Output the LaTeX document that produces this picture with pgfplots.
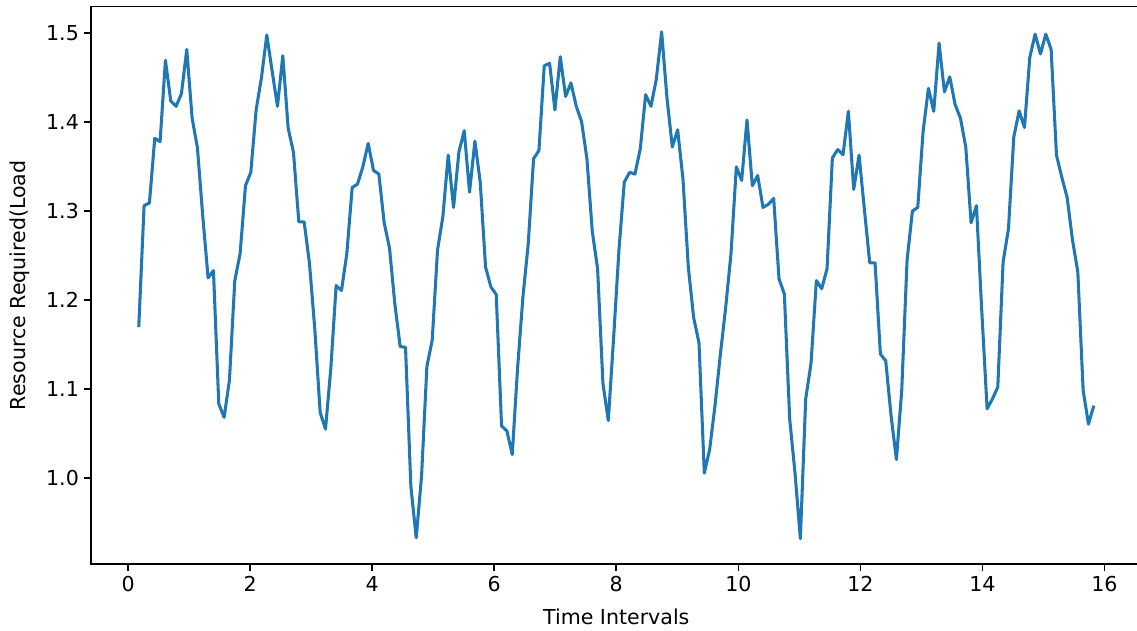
\documentclass[border=0pt]{standalone}
\usepackage{fontspec}
\setmainfont{DejaVu Sans}
\usepackage{pgfplots}
\pgfplotsset{compat=1.18}
\usetikzlibrary{calc}
\definecolor{mplBlue}{HTML}{1F77B4}

\pgfplotstableread{
x y
0.1749 1.1697
0.2623 1.3061
0.3497 1.3091
0.4372 1.3817
0.5246 1.3781
0.6120 1.4694
0.6995 1.4237
0.7869 1.4177
0.8743 1.4319
0.9617 1.4815
1.0492 1.4045
1.1366 1.3710
1.2240 1.2939
1.3115 1.2250
1.3989 1.2331
1.4863 1.0835
1.5738 1.0683
1.6612 1.1104
1.7486 1.2219
1.8361 1.2523
1.9235 1.3284
2.0109 1.3436
2.0984 1.4136
2.1858 1.4501
2.2732 1.4978
2.3607 1.4572
2.4481 1.4177
2.5355 1.4745
2.6230 1.3933
2.7104 1.3659
2.7978 1.2878
2.8852 1.2878
2.9727 1.2412
3.0601 1.1671
3.1475 1.0738
3.2350 1.0551
3.3224 1.1235
3.4098 1.2164
3.4973 1.2108
3.5847 1.2523
3.6721 1.3264
3.7596 1.3304
3.8470 1.3497
3.9344 1.3761
4.0219 1.3456
4.1093 1.3416
4.1967 1.2868
4.2842 1.2584
4.3716 1.1955
4.4590 1.1479
4.5464 1.1469
4.6339 0.9907
4.7213 0.9330
4.8087 1.0018
4.8962 1.1253
4.9836 1.1550
5.0710 1.2564
5.1585 1.2939
5.2459 1.3629
5.3333 1.3041
5.4208 1.3664
5.5082 1.3903
5.5956 1.3213
5.6831 1.3786
5.7705 1.3325
5.8579 1.2371
5.9454 1.2148
6.0328 1.2062
6.1202 1.0586
6.2077 1.0530
6.2951 1.0265
6.3825 1.1235
6.4699 1.2032
6.5574 1.2635
6.6448 1.3588
6.7322 1.3680
6.8197 1.4633
6.9071 1.4660
6.9945 1.4136
7.0820 1.4734
7.1694 1.4288
7.2568 1.4440
7.3443 1.4177
7.4317 1.4004
7.5191 1.3588
7.6066 1.2772
7.6940 1.2351
7.7814 1.1063
7.8689 1.0647
7.9563 1.1576
8.0437 1.2564
8.1311 1.3325
8.2186 1.3436
8.3060 1.3416
8.3934 1.3700
8.4809 1.4308
8.5683 1.4177
8.6557 1.4481
8.7432 1.5013
8.8306 1.4273
8.9180 1.3720
9.0055 1.3913
9.0929 1.3360
9.1803 1.2371
9.2678 1.1803
9.3552 1.1519
9.4426 1.0056
9.5301 1.0323
9.6175 1.0815
9.7049 1.1387
9.7923 1.1915
9.8798 1.2523
9.9672 1.3497
10.0546 1.3345
10.1421 1.4024
10.2295 1.3284
10.3169 1.3400
10.4044 1.3041
10.4918 1.3076
10.5792 1.3142
10.6667 1.2239
10.7541 1.2067
10.8415 1.0664
10.9290 1.0056
11.0164 0.9320
11.1038 1.0890
11.1913 1.1291
11.2787 1.2219
11.3661 1.2128
11.4536 1.2351
11.5410 1.3598
11.6284 1.3690
11.7158 1.3634
11.8033 1.4121
11.8907 1.3243
11.9781 1.3629
12.0656 1.3020
12.1530 1.2419
12.2404 1.2419
12.3279 1.1394
12.4153 1.1317
12.5027 1.0702
12.5902 1.0209
12.6776 1.0987
12.7650 1.2449
12.8525 1.3000
12.9399 1.3041
13.0273 1.3893
13.1148 1.4379
13.2022 1.4121
13.2896 1.4886
13.3770 1.4339
13.4645 1.4508
13.5519 1.4197
13.6393 1.4045
13.7268 1.3720
13.8142 1.2868
13.9016 1.3061
13.9891 1.1879
14.0765 1.0779
14.1639 1.0890
14.2514 1.1023
14.3388 1.2432
14.4262 1.2797
14.5137 1.3832
14.6011 1.4126
14.6885 1.3938
14.7760 1.4728
14.8634 1.4988
14.9508 1.4765
15.0383 1.4988
15.1257 1.4815
15.2131 1.3629
15.3005 1.3380
15.3880 1.3152
15.4754 1.2676
15.5628 1.2317
15.6503 1.0987
15.7377 1.0607
15.8251 1.0815
}\loadtable

\begin{document}
\begin{tikzpicture}
\begin{axis}[
  name=ax,
  scale only axis,
  width=756.4pt, height=401.4pt,
  xmin=-0.608, xmax=16.608,
  ymin=0.9035, ymax=1.5298,
  xtick={0,2,...,16},
  ytick={1.0,1.1,1.2,1.3,1.4,1.5},
  tick pos=left,
  tick align=outside,
  major tick length=5.2pt,
  tick style={black, line width=1.2pt},
  axis line style={black, line width=1.2pt},
  /pgf/number format/assume math mode=true,
  tick label style={font=\fontsize{14.8}{17.8}\selectfont, black},
  yticklabel style={/pgf/number format/fixed, /pgf/number format/precision=1, /pgf/number format/fixed zerofill},
  label style={font=\fontsize{14.8}{17.8}\selectfont},
  xlabel={Time Intervals},
  ylabel={Resource Required(Load},
  xlabel style={at={(axis description cs:0.5,-0.0952)}, anchor=center},
  ylabel style={at={(axis description cs:-0.0674,0.5)}, anchor=center, rotate=0},
]
\addplot[mplBlue, line width=2.2pt, line join=round, no markers] table[x=x, y=y] {\loadtable};
\end{axis}
\pgfresetboundingbox
\path ($(ax.south west)+(-65.5pt,-47.5pt)$) rectangle ($(ax.north east)+(-3.3pt,4.7pt)$);
\end{tikzpicture}
\end{document}
